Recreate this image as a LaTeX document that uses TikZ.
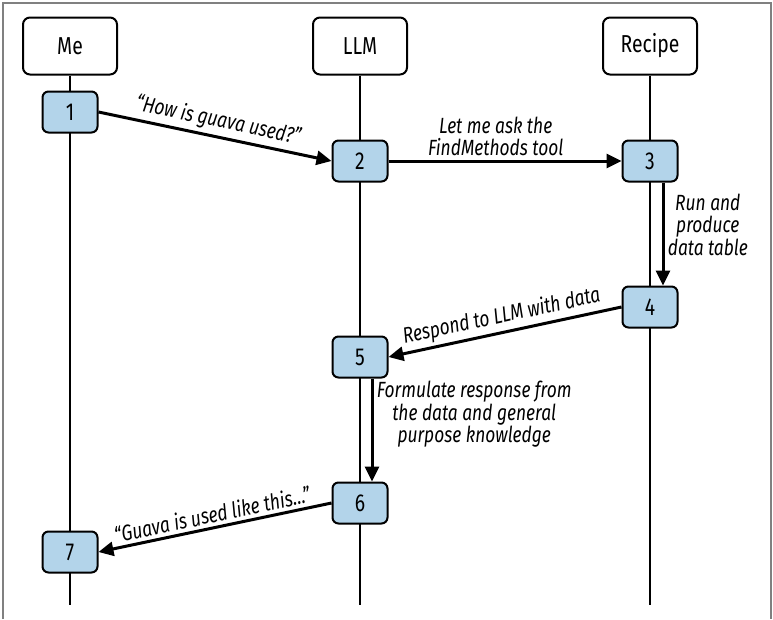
\documentclass[tikz,border=0pt]{standalone}
\usepackage{fontspec}
\setmainfont{Fira Sans}[FakeStretch=0.79]
\usetikzlibrary{arrows.meta}
\definecolor{stepblue}{RGB}{179,212,234}
\definecolor{framegray}{RGB}{128,128,128}

\begin{document}
\begin{tikzpicture}[x=1pt,y=-1pt,
    actor/.style={draw,line width=2pt,rounded corners=7pt,minimum width=94pt,minimum height=57pt,font=\fontsize{24.5}{26}\selectfont},
    stepbox/.style={draw,line width=2pt,fill=stepblue,rounded corners=6pt,minimum width=55pt,minimum height=41pt,font=\fontsize{24.5}{26}\selectfont},
    life/.style={line width=1.5pt},
    msg/.style={line width=3pt,-{Triangle[length=15pt,width=14pt]}},
    lbl/.style={font=\fontsize{22}{22.5}\selectfont\itshape,align=center}]
                \useasboundingbox (0,0) rectangle (773,619);
                \draw[framegray,line width=1.5pt] (3,619) -- (3,3) -- (771,3) -- (771,619);
                \node[actor] (me) at (70,46) {Me};
                \node[actor] (llm) at (360,46) {LLM};
                \node[actor] (recipe) at (650,46) {Recipe};
                \coordinate (meEnd) at (70,605);
                \coordinate (llmEnd) at (360,605);
                \coordinate (recipeEnd) at (650,605);
                \draw[life] (me) -- (meEnd);
                \draw[life] (llm) -- (llmEnd);
                \draw[life] (recipe) -- (recipeEnd);
                \node[stepbox] (s1) at (70,112) {1};
                \node[stepbox] (s2) at (360,161) {2};
                \node[stepbox] (s3) at (650,161) {3};
                \node[stepbox] (s4) at (650,307) {4};
                \node[stepbox] (s5) at (360,357) {5};
                \node[stepbox] (s6) at (360,503) {6};
                \node[stepbox] (s7) at (70,552) {7};
                \draw[msg] (s1.east) -- (s2.west) node[lbl,midway,sloped,above]{“How is guava used?”};
                \draw[msg] (s2.east) -- (s3.west) node[lbl,pos=0.46,above]{Let me ask the\\FindMethods tool};
                \draw[msg] ([xshift=13pt]s3.south) -- ([xshift=13pt]s4.north) node[lbl,pos=0.41,right]{Run and\\produce\\data table};
                \draw[msg] (s4.west) -- (s5.east) node[lbl,midway,sloped,above]{Respond to LLM with data};
                \draw[msg] ([xshift=12pt]s5.south) -- ([xshift=12pt]s6.north) node[lbl,pos=0.35,right]{Formulate response from\\the data and general\\purpose knowledge};
                \draw[msg] (s6.west) -- (s7.east) node[lbl,midway,sloped,above]{“Guava is used like this…”};
\end{tikzpicture}
\end{document}
